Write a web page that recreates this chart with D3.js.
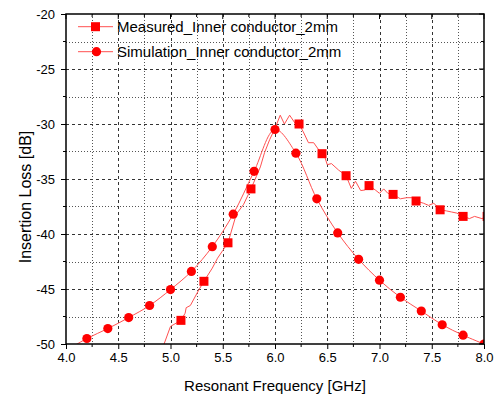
<!DOCTYPE html>
<html><head><meta charset="utf-8">
<script src="https://cdn.jsdelivr.net/npm/d3@7"></script>
<style>html,body{margin:0;padding:0;background:#fff;}svg{display:block;font-family:"Liberation Sans",Arial,sans-serif;}</style>
</head><body>
<script>
// ---- data ----
const xTicks = [4.0,4.5,5.0,5.5,6.0,6.5,7.0,7.5,8.0];
const yTicks = [-20,-25,-30,-35,-40,-45,-50];
const seriesNames = ["Measured_Inner conductor_2mm","Simulation_Inner conductor_2mm"];

const measFreq = [4.90,5.00,5.10,5.14,5.15,5.19,5.27,5.32,5.40,5.45,5.50,5.55,5.63,5.70,5.77,5.82,5.86,5.90,5.95,6.00,6.05,6.09,6.14,6.19,6.23,6.27,6.32,6.37,6.43,6.45,6.48,6.50,6.54,6.61,6.68,6.73,6.77,6.82,6.86,6.90,6.96,7.00,7.04,7.08,7.13,7.20,7.26,7.31,7.35,7.42,7.47,7.52,7.55,7.58,7.64,7.69,7.74,7.80,7.86,7.91,7.98,8.03];
const measLoss = [-51.0,-48.4,-47.85,-47.2,-46.7,-46.5,-45.1,-44.3,-43.1,-42.2,-41.5,-40.8,-38.2,-37.3,-35.9,-34.8,-33.9,-32.6,-31.4,-30.4,-29.2,-30.0,-29.2,-29.9,-30.0,-30.7,-31.7,-31.7,-32.5,-32.7,-33.1,-33.7,-33.6,-34.2,-34.7,-35.85,-35.2,-36.05,-36.0,-35.6,-36.0,-36.3,-35.9,-36.3,-36.4,-36.8,-36.7,-36.7,-37.0,-37.2,-37.4,-37.2,-37.5,-37.8,-37.9,-38.0,-38.1,-38.4,-38.6,-38.4,-38.6,-38.4];
const measMarkFreq = [5.10,5.32,5.55,5.77,6.23,6.45,6.68,6.90,7.13,7.35,7.58,7.80,8.03];
const measMarkLoss = [-47.85,-44.3,-40.8,-35.9,-30.0,-32.7,-34.7,-35.6,-36.4,-37.0,-37.8,-38.4,-38.4];

const simFreq = [4.0,4.2,4.4,4.6,4.8,5.0,5.2,5.4,5.6,5.8,6.0,6.2,6.4,6.6,6.8,7.0,7.2,7.4,7.6,7.8,8.0];
const simLoss = [-50.6,-49.5,-48.6,-47.6,-46.5,-45.05,-43.4,-41.15,-38.2,-34.3,-30.5,-32.65,-36.8,-39.9,-42.3,-44.2,-45.75,-47.0,-48.25,-49.2,-50.0];

// ---- layout ----
const W = 500, H = 396;
const L = 66, R = 484, T = 14, B = 344;
const lineColor = "#ff5050", markColor = "#ff0000";

const svg = d3.select("body").append("svg").attr("width", W).attr("height", H);
const x = d3.scaleLinear().domain([4, 8]).range([L, R]);
const y = d3.scaleLinear().domain([-50, -20]).range([B, T]);

// grid
const minorX = d3.range(4.25, 8, 0.5), majorX = d3.range(4.5, 8, 0.5);
const minorY = d3.range(-47.5, -20, 5), majorY = d3.range(-45, -20, 5);
const grid = svg.append("g");
grid.selectAll(".gmx").data(majorX).enter().append("line")
  .attr("x1", d => Math.round(x(d)) + 0.5).attr("x2", d => Math.round(x(d)) + 0.5)
  .attr("y1", T).attr("y2", B).attr("stroke", "#333").attr("stroke-dasharray", "3,3");
grid.selectAll(".gnx").data(minorX).enter().append("line")
  .attr("x1", d => Math.round(x(d)) + 0.5).attr("x2", d => Math.round(x(d)) + 0.5)
  .attr("y1", T).attr("y2", B).attr("stroke", "#555").attr("stroke-dasharray", "1,2");
grid.selectAll(".gmy").data(majorY).enter().append("line")
  .attr("y1", d => Math.round(y(d)) + 0.5).attr("y2", d => Math.round(y(d)) + 0.5)
  .attr("x1", L).attr("x2", R).attr("stroke", "#333").attr("stroke-dasharray", "3,3");
grid.selectAll(".gny").data(minorY).enter().append("line")
  .attr("y1", d => Math.round(y(d)) + 0.5).attr("y2", d => Math.round(y(d)) + 0.5)
  .attr("x1", L).attr("x2", R).attr("stroke", "#555").attr("stroke-dasharray", "1,2");

// clip
svg.append("clipPath").attr("id", "clip").append("rect")
  .attr("x", L).attr("y", T).attr("width", R - L).attr("height", B - T);
const plot = svg.append("g").attr("clip-path", "url(#clip)");

const measPts = measFreq.map((f, i) => [f, measLoss[i]]);
const simPts = simFreq.map((f, i) => [f, simLoss[i]]);
plot.append("path").datum(measPts)
  .attr("d", d3.line().x(d => x(d[0])).y(d => y(d[1])))
  .attr("fill", "none").attr("stroke", lineColor).attr("stroke-width", 1);
plot.append("path").datum(simPts)
  .attr("d", d3.line().x(d => x(d[0])).y(d => y(d[1])).curve(d3.curveCatmullRom.alpha(0.5)))
  .attr("fill", "none").attr("stroke", lineColor).attr("stroke-width", 1);

const sq = 9, cr = 4.6;
plot.selectAll(".msq").data(measMarkFreq.map((f, i) => [f, measMarkLoss[i]])).enter().append("rect")
  .attr("x", d => x(d[0]) - sq / 2).attr("y", d => y(d[1]) - sq / 2)
  .attr("width", sq).attr("height", sq).attr("fill", markColor);
plot.selectAll(".scr").data(simPts).enter().append("circle")
  .attr("cx", d => x(d[0])).attr("cy", d => y(d[1])).attr("r", cr).attr("fill", markColor);

// axes
const axG = svg.append("g");
const bottom = d3.axisBottom(x).tickValues(xTicks).tickFormat(d3.format(".1f")).tickSize(5).tickPadding(4);
const gb = axG.append("g").attr("transform", `translate(0,${B})`).call(bottom);
const left = d3.axisLeft(y).tickValues(yTicks).tickFormat(d => d).tickSize(5).tickPadding(4);
const gl = axG.append("g").attr("transform", `translate(${L},0)`).call(left);
[gb, gl].forEach(g => {
  g.selectAll("text").attr("font-size", 13).attr("fill", "#000").attr("font-family", "Liberation Sans, Arial, sans-serif");
  g.selectAll("line").attr("stroke", "#000");
  g.select(".domain").remove();
});
gl.selectAll("text").attr("dx", "-2");
// minor ticks
axG.selectAll(".mtb").data(minorX).enter().append("line")
  .attr("x1", d => x(d)).attr("x2", d => x(d)).attr("y1", B).attr("y2", B + 3).attr("stroke", "#000");
axG.selectAll(".mtl").data(minorY).enter().append("line")
  .attr("y1", d => y(d)).attr("y2", d => y(d)).attr("x1", L).attr("x2", L - 3).attr("stroke", "#000");
// top & right inward ticks
axG.selectAll(".tt").data(xTicks).enter().append("line")
  .attr("x1", d => x(d)).attr("x2", d => x(d)).attr("y1", T).attr("y2", T + 5).attr("stroke", "#000");
axG.selectAll(".ttm").data(minorX).enter().append("line")
  .attr("x1", d => x(d)).attr("x2", d => x(d)).attr("y1", T).attr("y2", T + 3).attr("stroke", "#000");
axG.selectAll(".rt").data(yTicks).enter().append("line")
  .attr("y1", d => y(d)).attr("y2", d => y(d)).attr("x1", R).attr("x2", R - 5).attr("stroke", "#000");
axG.selectAll(".rtm").data(minorY).enter().append("line")
  .attr("y1", d => y(d)).attr("y2", d => y(d)).attr("x1", R).attr("x2", R - 3).attr("stroke", "#000");
// frame
axG.append("rect").attr("x", L).attr("y", T).attr("width", R - L).attr("height", B - T)
  .attr("fill", "none").attr("stroke", "#000").attr("stroke-width", 1.5);

// titles
svg.append("text").attr("x", (L + R) / 2).attr("y", 391).attr("text-anchor", "middle")
  .attr("font-size", 15).text("Resonant Frequency [GHz]");
svg.append("text").attr("transform", "translate(31,197) rotate(-90)").attr("text-anchor", "middle")
  .attr("font-size", 16).text("Insertion Loss [dB]");

// legend
const leg = svg.append("g");
const legRows = [{y: 26.7, shape: "sq"}, {y: 51.7, shape: "ci"}];
legRows.forEach((r, i) => {
  leg.append("line").attr("x1", 78).attr("x2", 113).attr("y1", r.y).attr("y2", r.y)
    .attr("stroke", lineColor).attr("stroke-width", 1);
  if (r.shape === "sq") leg.append("rect").attr("x", 95.5 - sq / 2).attr("y", r.y - sq / 2)
    .attr("width", sq).attr("height", sq).attr("fill", markColor);
  else leg.append("circle").attr("cx", 96.5).attr("cy", r.y).attr("r", cr).attr("fill", markColor);
  leg.append("text").attr("x", 117).attr("y", r.y + 5.5).attr("font-size", 15).text(seriesNames[i]);
});
</script>
</body></html>
